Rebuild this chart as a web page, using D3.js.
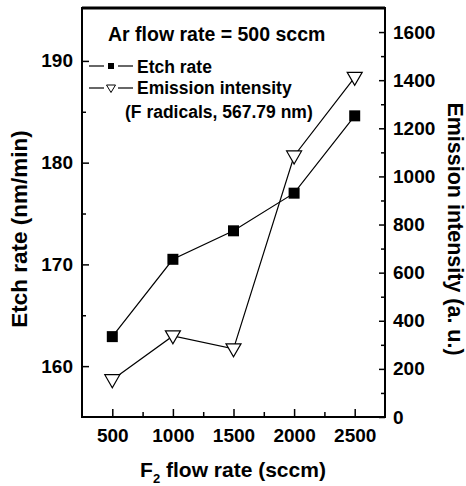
<!DOCTYPE html>
<html>
<head>
<meta charset="utf-8">
<script src="https://cdn.jsdelivr.net/npm/d3@7"></script>
<style>
  body { margin: 0; background: #fff; }
  text { font-family: "Liberation Sans", Arial, sans-serif; font-weight: bold; fill: #000; }
</style>
</head>
<body>
<svg id="chart" width="466" height="486"></svg>
<script>
// data
var flowRates = [500, 1000, 1500, 2000, 2500];
var etchRate = [162.9, 170.5, 173.3, 177.0, 184.6];
var emission = [155, 337, 283, 1085, 1412];
var xTicks = [500, 1000, 1500, 2000, 2500];
var leftTicks = [160, 170, 180, 190];
var rightTicks = [0, 200, 400, 600, 800, 1000, 1200, 1400, 1600];

var svg = d3.select("#chart");
var L = 82, R = 385, T = 8, B = 417;
var fmt = d3.format("d");

var x = d3.scaleLinear().domain([250, 2750]).range([L, R]);
var yL = d3.scaleLinear().domain([155, 195.2]).range([B, T]);
var yR = d3.scaleLinear().domain([0, 1700]).range([B, T]);

// axes, ticks pointing inwards
function drawAxis(axis, tx, ty) {
  var g = svg.append("g").attr("transform", "translate(" + tx + "," + ty + ")").call(axis);
  g.select(".domain").remove();
  g.selectAll("line").attr("stroke", "#000").attr("stroke-width", 1.5);
  g.selectAll("text").attr("font-size", 19).attr("font-family", null).style("font-weight", "bold");
  return g;
}

// bottom
drawAxis(d3.axisTop(x).tickValues(xTicks).tickSize(8).tickFormat(""), 0, B);
drawAxis(d3.axisTop(x).tickValues([750, 1250, 1750, 2250]).tickSize(5).tickFormat(""), 0, B);
drawAxis(d3.axisBottom(x).tickValues(xTicks).tickSize(0).tickPadding(12).tickFormat(fmt), 0, B);

// left
drawAxis(d3.axisRight(yL).tickValues(leftTicks).tickSize(7).tickFormat(""), L, 0);
drawAxis(d3.axisRight(yL).tickValues([165, 175, 185]).tickSize(4).tickFormat(""), L, 0);
drawAxis(d3.axisLeft(yL).tickValues(leftTicks).tickSize(0).tickPadding(9).tickFormat(fmt), L, 0);

// right
drawAxis(d3.axisLeft(yR).tickValues(rightTicks).tickSize(6).tickFormat(""), R, 0);
drawAxis(d3.axisLeft(yR).tickValues(d3.range(100, 1700, 200)).tickSize(4).tickFormat(""), R, 0);
drawAxis(d3.axisRight(yR).tickValues(rightTicks).tickSize(0).tickPadding(8).tickFormat(fmt), R, 0);

// frame
svg.append("rect").attr("x", L).attr("y", T).attr("width", R - L).attr("height", B - T)
  .attr("fill", "none").attr("stroke", "#000").attr("stroke-width", 2);
svg.append("line").attr("x1", L).attr("x2", R).attr("y1", T).attr("y2", T)
  .attr("stroke", "#000").attr("stroke-width", 3);

// series lines
var etchLine = d3.line().x(function(d, i) { return x(flowRates[i]); }).y(function(d) { return yL(d); });
var emLine = d3.line().x(function(d, i) { return x(flowRates[i]); }).y(function(d) { return yR(d); });

svg.append("path").datum(etchRate).attr("d", etchLine)
  .attr("fill", "none").attr("stroke", "#000").attr("stroke-width", 1.2);
svg.append("path").datum(emission).attr("d", emLine)
  .attr("fill", "none").attr("stroke", "#000").attr("stroke-width", 1.2);

var sq = d3.symbol().type(d3.symbolSquare).size(121);
var tri = "M-7.5,-5 L7.5,-5 L0,8 Z";

svg.selectAll(".sq").data(etchRate).enter().append("path")
  .attr("d", sq)
  .attr("transform", function(d, i) { return "translate(" + x(flowRates[i]) + "," + yL(d) + ")"; })
  .attr("fill", "#000");

svg.selectAll(".tri").data(emission).enter().append("path")
  .attr("d", tri)
  .attr("transform", function(d, i) { return "translate(" + x(flowRates[i]) + "," + yR(d) + ")"; })
  .attr("fill", "#fff").attr("stroke", "#000").attr("stroke-width", 1.2);

// legend
svg.append("text").attr("x", 108).attr("y", 41).attr("font-size", 19.5).text("Ar flow rate = 500 sccm");

function legendRow(y, marker, filled) {
  // dash - marker - dash, with small gaps
  [[89, 104], [118, 133]].forEach(function(s) {
    svg.append("line").attr("x1", s[0]).attr("x2", s[1]).attr("y1", y).attr("y2", y)
      .attr("stroke", "#000").attr("stroke-width", 1.2);
  });
  var m = svg.append("path").attr("d", marker).attr("transform", "translate(111," + y + ")");
  if (filled) m.attr("fill", "#000");
  else m.attr("fill", "#fff").attr("stroke", "#000").attr("stroke-width", 1);
}
legendRow(66, d3.symbol().type(d3.symbolSquare).size(36), true);
legendRow(88, "M-4.5,-3 L4.5,-3 L0,4.5 Z", false);
svg.append("text").attr("x", 137).attr("y", 73).attr("font-size", 17.5).text("Etch rate");
svg.append("text").attr("x", 137).attr("y", 94).attr("font-size", 17.5).text("Emission intensity");
svg.append("text").attr("x", 125).attr("y", 118).attr("font-size", 17.5).text("(F radicals, 567.79 nm)");

// axis titles
var xt = svg.append("text").attr("x", 233).attr("y", 477).attr("text-anchor", "middle").attr("font-size", 21);
xt.append("tspan").text("F");
xt.append("tspan").attr("font-size", 13).attr("dy", 6).text("2");
xt.append("tspan").attr("dy", -6).text(" flow rate (sccm)");

svg.append("text").attr("transform", "translate(27," + 229 + ") rotate(-90)")
  .attr("text-anchor", "middle").attr("font-size", 22.5).text("Etch rate (nm/min)");
svg.append("text").attr("transform", "translate(448," + 229 + ") rotate(90)")
  .attr("text-anchor", "middle").attr("font-size", 21.5).text("Emission intensity (a. u.)");
</script>
</body>
</html>
